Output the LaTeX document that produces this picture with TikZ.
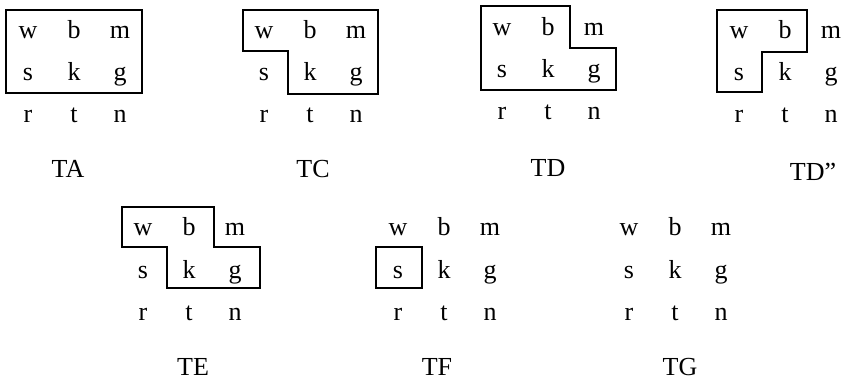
\documentclass[tikz,border=0pt]{standalone}
\usepackage{fontspec}
\setmainfont{Liberation Serif}
\usepackage{tikz}

% one 3x3 block of letters, named <prefix><letter>
\newcommand{\lettergrid}[3]{%
\begin{scope}[shift={(#2,#3)}]
\node[letter] (#1w) at (0,6) {w};
\node[letter] (#1b) at (46,6) {b};
\node[letter] (#1m) at (92,6) {m};
\node[letter] (#1s) at (0,48) {s};
\node[letter] (#1k) at (46,48) {k};
\node[letter] (#1g) at (92,48) {g};
\node[letter] (#1r) at (0,90) {r};
\node[letter] (#1t) at (46,90) {t};
\node[letter] (#1n) at (92,90) {n};
\end{scope}}

\begin{document}
\begin{tikzpicture}[x=1pt,y=-1pt,
  letter/.style={anchor=base,inner sep=0pt,font=\fontsize{26}{30}\selectfont},
  caption/.style={anchor=base,inner sep=0pt,font=\fontsize{26}{30}\selectfont},
  region/.style={draw,line width=1.6pt,line join=miter}]
\useasboundingbox (0,0) rectangle (842,379);

% top row
\lettergrid{a}{28}{33}
\lettergrid{c}{264}{33}
\lettergrid{d}{502}{30}
\lettergrid{dd}{739}{33}
% bottom row
\lettergrid{e}{143}{230}
\lettergrid{f}{398}{230}
\lettergrid{g}{629}{230}

\draw[region,line width=2.6pt] (6,10) rectangle (142,93);
\draw[region] (243,10) -- (378,10) -- (378,94) -- (288,94) -- (288,51) -- (243,51) -- cycle;
\draw[region] (481,6) -- (570,6) -- (570,48) -- (616,48) -- (616,90) -- (481,90) -- cycle;
\draw[region] (717,10) -- (807,10) -- (807,52) -- (762,52) -- (762,92) -- (717,92) -- cycle;
\draw[region] (122,207) -- (214,207) -- (214,247) -- (260,247) -- (260,288) -- (167,288) -- (167,247) -- (122,247) -- cycle;
\draw[region,line width=2pt] (376,247) rectangle (422,288);

\node[caption] (ta) at (68,178) {TA};
\node[caption] (tc) at (313,178) {TC};
\node[caption] (td) at (548,177) {TD};
\node[caption] (tdd) at (813,181) {TD”};
\node[caption] (te) at (193,375) {TE};
\node[caption] (tf) at (437,375) {TF};
\node[caption] (tg) at (680,375) {TG};
\end{tikzpicture}
\end{document}
